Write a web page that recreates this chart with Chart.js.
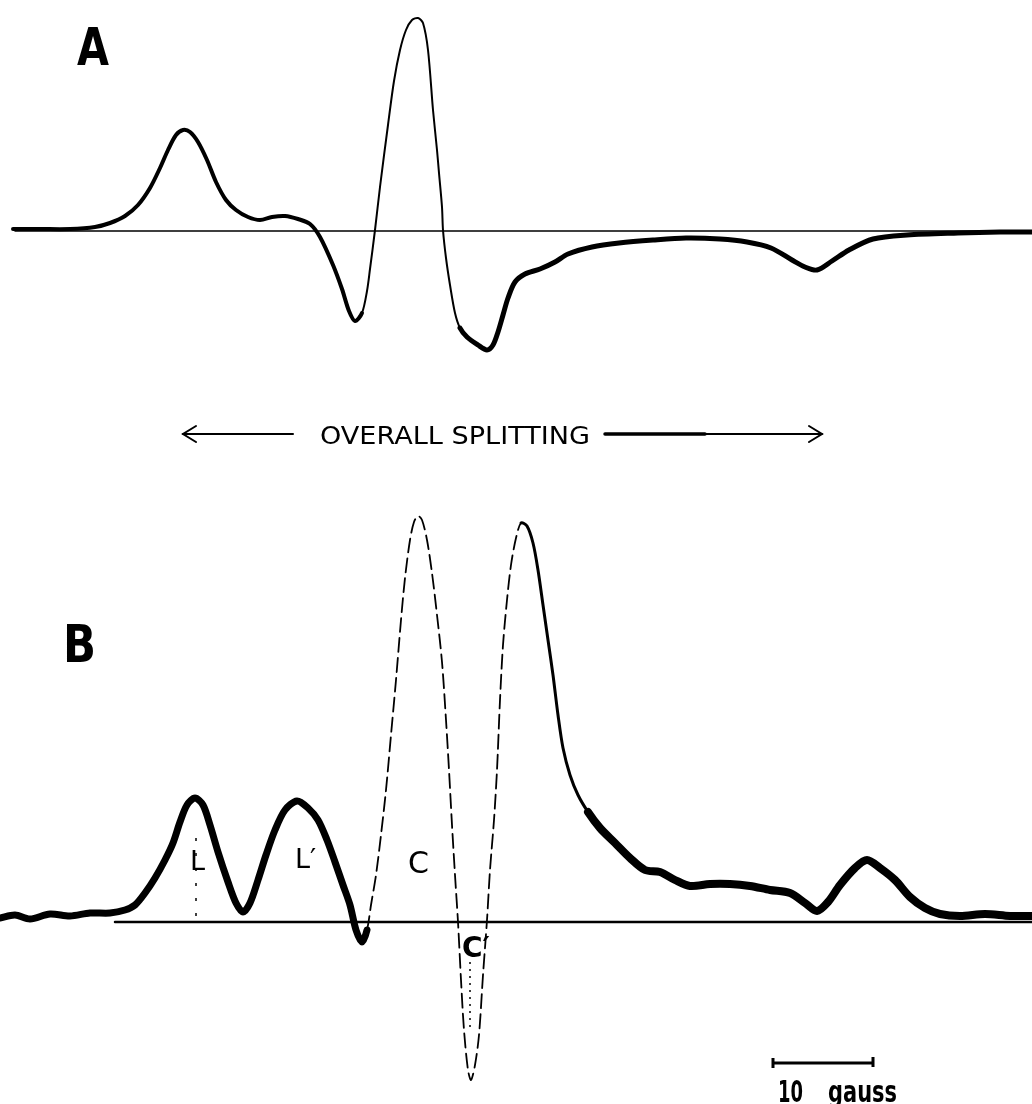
<!DOCTYPE html>
<html>
<head>
<meta charset="utf-8">
<title>EPR spectra A / B</title>
<script src="https://cdn.jsdelivr.net/npm/chart.js@4.4.1/dist/chart.umd.min.js"></script>
<style>
  html, body { margin: 0; padding: 0; background: #fff; }
  #wrap { position: relative; width: 1032px; height: 1104px; overflow: hidden; }
  canvas { position: absolute; left: 0; }
  #specA { top: 0; }
  #specB { top: 480px; }
</style>
</head>
<body>
<div id="wrap">
  <canvas id="specA" width="1032" height="480"></canvas>
  <canvas id="specB" width="1032" height="624"></canvas>
</div>
<script>
// field in gauss from the start of the sweep, signal in arbitrary units (0 = baseline)
const fieldA = [1.3, 4.0, 7.0, 9.5, 11.0, 12.5, 13.8, 15.0, 16.0, 16.8, 17.6, 18.3, 19.0, 19.8, 20.7, 21.6, 22.6, 23.6, 24.8, 26.0,
  27.2, 28.5, 29.8, 31.0, 32.0, 33.3, 34.2, 34.9, 35.5, 36.2, 36.7, 37.0, 37.5, 38.0, 38.8, 39.4, 40.0, 40.6, 41.2, 41.8,
  42.3, 42.8, 43.3, 43.7, 43.9, 44.2, 44.3, 44.6, 45.0, 45.5, 46.0, 46.7, 47.8, 48.7, 49.3, 49.8, 50.3, 50.8, 51.5, 52.5,
  54.0, 55.5, 56.8, 59.2, 61.9, 65.3, 68.6, 72.0, 74.7, 77.1, 79.2, 80.5, 81.7, 83.2, 84.9, 87.3, 90.7, 95.8, 100.0, 103.2];
const signalA = [2, 2, 2, 4, 8, 15, 26, 43, 63, 81, 96, 101, 99, 89, 71, 49, 31, 21, 14, 11,
  14, 15, 12, 7, -6, -34, -58, -80, -90, -82, -60, -38, 1, 44, 106, 150, 181, 201, 211, 213,
  208, 181, 121, 81, 58, 24, 1, -27, -54, -82, -97, -106, -114, -119, -114, -101, -84, -67, -51, -43,
  -38, -31, -23, -16, -12, -9, -7, -8, -11, -17, -29, -36, -39, -30, -19, -8, -4, -2, -1, -1];

const fieldB = [0.0, 1.5, 3.0, 5.0, 7.0, 9.0, 11.0, 12.5, 13.5, 14.5, 15.5, 16.5, 17.3, 18.0, 18.7, 19.5, 20.3, 21.0, 21.8, 22.8,
  23.6, 24.3, 25.0, 25.8, 26.6, 27.5, 28.5, 29.7, 30.8, 31.8, 32.7, 33.5, 34.3, 35.0, 35.6, 36.2, 36.7, 37.1, 37.6, 38.1,
  38.6, 39.1, 39.6, 40.1, 40.5, 41.0, 41.4, 41.8, 42.2, 42.7, 43.2, 43.7, 44.2, 44.6, 44.9, 45.2, 45.5, 45.8, 46.1, 46.4,
  46.8, 47.1, 47.5, 47.9, 48.3, 48.7, 49.0, 49.4, 49.7, 50.0, 50.3, 50.7, 51.1, 51.6, 52.1, 52.7, 53.3, 53.8, 54.3, 54.8,
  55.3, 55.8, 56.3, 57.0, 57.8, 58.8, 60.0, 61.5, 63.0, 64.5, 66.0, 67.5, 69.0, 71.0, 73.0, 75.0, 77.0, 79.0, 80.5, 81.7,
  82.8, 84.0, 85.5, 86.7, 88.0, 89.5, 91.0, 92.5, 94.0, 96.0, 98.5, 101.0, 103.2];
const signalB = [4, 7, 3, 8, 6, 9, 9, 12, 17, 29, 44, 62, 79, 100, 117, 124, 117, 97, 70, 40,
  19, 10, 19, 42, 67, 92, 112, 121, 114, 102, 82, 60, 37, 17, -8, -20, -8, 17, 47, 87,
  132, 187, 242, 302, 344, 382, 400, 406, 402, 382, 349, 307, 260, 202, 152, 97, 47, 0, -58, -108,
  -148, -158, -143, -113, -53, 2, 52, 102, 152, 222, 277, 322, 357, 384, 399, 396, 379, 352, 317, 282,
  247, 207, 174, 147, 127, 110, 94, 79, 64, 52, 50, 42, 36, 38, 38, 36, 32, 29, 19, 11,
  20, 37, 54, 62, 54, 42, 25, 14, 8, 6, 8, 6, 6];

// where the recorder pen sped up (thin trace) and slowed down again
const fastA = [36.2, 46.0];
const fastB = [36.7, 52.1];
const noisyB = 58.8;
const baseA = [1.5, 103.2];
const baseB = [11.5, 103.2];
const scaleBar = [77.3, 87.3];   // 10 gauss

const ink = '#000';

// pen width along each sweep
function penA(f) {
  if (f < fastA[0]) return 4;
  if (f < fastA[1]) return 2;
  return 5;
}
function penB(f) {
  if (f < fastB[0]) return 7;
  if (f < fastB[1]) return 1.8;
  if (f < noisyB) return 3;
  return 8;
}

function points(field, signal) {
  return field.map((f, i) => ({ x: f, y: signal[i] }));
}

function trace(data, width, segment) {
  return {
    data: data,
    borderColor: ink,
    borderWidth: width,
    borderCapStyle: 'round',
    borderJoinStyle: 'round',
    pointRadius: 0,
    fill: false,
    tension: 0.3,
    segment: segment || {},
  };
}

function text(ctx, str, x, y, font, width) {
  ctx.save();
  ctx.font = font;
  ctx.fillStyle = ink;
  ctx.textBaseline = 'alphabetic';
  const w = ctx.measureText(str).width;
  ctx.translate(x, y);
  if (width) ctx.scale(width / w, 1);
  ctx.fillText(str, 0, 0);
  ctx.restore();
}

function arrowHead(ctx, x, y, dir) {
  ctx.beginPath();
  ctx.moveTo(x - dir * 13, y - 8);
  ctx.lineTo(x, y);
  ctx.lineTo(x - dir * 13, y + 8);
  ctx.stroke();
}

function dotted(ctx, x, y1, y2, dash) {
  ctx.save();
  ctx.setLineDash(dash);
  ctx.lineWidth = 1.5;
  ctx.beginPath();
  ctx.moveTo(x, y1);
  ctx.lineTo(x, y2);
  ctx.stroke();
  ctx.restore();
}

function baseOptions(yMin, yMax) {
  return {
    responsive: false,
    animation: false,
    layout: { padding: 0 },
    plugins: { legend: { display: false }, tooltip: { enabled: false } },
    scales: {
      x: { type: 'linear', min: 0, max: 103.2, display: false },
      y: { type: 'linear', min: yMin, max: yMax, display: false },
    },
  };
}

// labels and the splitting arrow for spectrum A
const notesA = {
  id: 'notesA',
  afterDatasetsDraw(chart) {
    const { ctx, scales: { x, y } } = chart;
    ctx.save();
    ctx.strokeStyle = ink;
    ctx.lineCap = 'round';
    text(ctx, 'A', x.getPixelForValue(7.7), y.getPixelForValue(166), 'bold 51px "DejaVu Sans"', 32);
    text(ctx, 'OVERALL SPLITTING', x.getPixelForValue(32.0), y.getPixelForValue(-213), '24px "DejaVu Sans"', 270);

    const ya = y.getPixelForValue(-203);
    const left = x.getPixelForValue(18.3), right = x.getPixelForValue(82.2);
    ctx.lineWidth = 2;
    ctx.beginPath();
    ctx.moveTo(left, ya);
    ctx.lineTo(x.getPixelForValue(29.3), ya);
    ctx.stroke();
    arrowHead(ctx, left, ya, -1);
    ctx.lineWidth = 3.5;
    ctx.beginPath();
    ctx.moveTo(x.getPixelForValue(60.5), ya);
    ctx.lineTo(x.getPixelForValue(70.5), ya);
    ctx.stroke();
    ctx.lineWidth = 2;
    ctx.beginPath();
    ctx.moveTo(x.getPixelForValue(70.5), ya);
    ctx.lineTo(right, ya);
    ctx.stroke();
    arrowHead(ctx, right, ya, 1);
    ctx.restore();
  }
};

// peak labels and the field scale for spectrum B
const notesB = {
  id: 'notesB',
  afterDatasetsDraw(chart) {
    const { ctx, scales: { x, y } } = chart;
    ctx.save();
    ctx.strokeStyle = ink;
    text(ctx, 'B', x.getPixelForValue(6.3), y.getPixelForValue(260), 'bold 52px "DejaVu Sans"', 33);
    text(ctx, 'L', x.getPixelForValue(19.0), y.getPixelForValue(52), '27px "DejaVu Sans"');
    text(ctx, 'L\u2032', x.getPixelForValue(29.5), y.getPixelForValue(54), '27px "DejaVu Sans"');
    text(ctx, 'C', x.getPixelForValue(40.8), y.getPixelForValue(49), '30px "DejaVu Sans"');
    text(ctx, 'C\u2032', x.getPixelForValue(46.2), y.getPixelForValue(-35), 'bold 28px "DejaVu Sans"');

    dotted(ctx, x.getPixelForValue(19.6), y.getPixelForValue(84), y.getPixelForValue(0), [3, 12]);
    dotted(ctx, x.getPixelForValue(47.0), y.getPixelForValue(-40), y.getPixelForValue(-110), [2, 5]);

    const yb = y.getPixelForValue(-141);
    const x0 = x.getPixelForValue(scaleBar[0]), x1 = x.getPixelForValue(scaleBar[1]);
    ctx.lineWidth = 3;
    ctx.beginPath();
    ctx.moveTo(x0, yb);
    ctx.lineTo(x1, yb);
    ctx.moveTo(x0, yb - 5);
    ctx.lineTo(x0, yb + 5);
    ctx.moveTo(x1, yb - 6);
    ctx.lineTo(x1, yb + 4);
    ctx.stroke();
    text(ctx, '10', x.getPixelForValue(77.8), y.getPixelForValue(-180), 'bold 30px "DejaVu Sans"', 25);
    text(ctx, 'gauss', x.getPixelForValue(82.8), y.getPixelForValue(-180), 'bold 30px "DejaVu Sans"', 69);
    ctx.restore();
  }
};

new Chart(document.getElementById('specA'), {
  type: 'line',
  data: {
    datasets: [
      trace([{ x: baseA[0], y: 0 }, { x: baseA[1], y: 0 }], 1.5),
      trace(points(fieldA, signalA), 4, {
        borderWidth: c => penA(c.p0.parsed.x),
      }),
    ]
  },
  options: baseOptions(-249, 231),
  plugins: [notesA],
});

new Chart(document.getElementById('specB'), {
  type: 'line',
  data: {
    datasets: [
      trace([{ x: baseB[0], y: 0 }, { x: baseB[1], y: 0 }], 2.5),
      trace(points(fieldB, signalB), 7, {
        borderWidth: c => penB(c.p0.parsed.x),
        borderDash: c => (c.p0.parsed.x >= fastB[0] && c.p0.parsed.x < fastB[1]) ? [14, 6] : [],
      }),
    ]
  },
  options: baseOptions(-182, 442),
  plugins: [notesB],
});
</script>
</body>
</html>
